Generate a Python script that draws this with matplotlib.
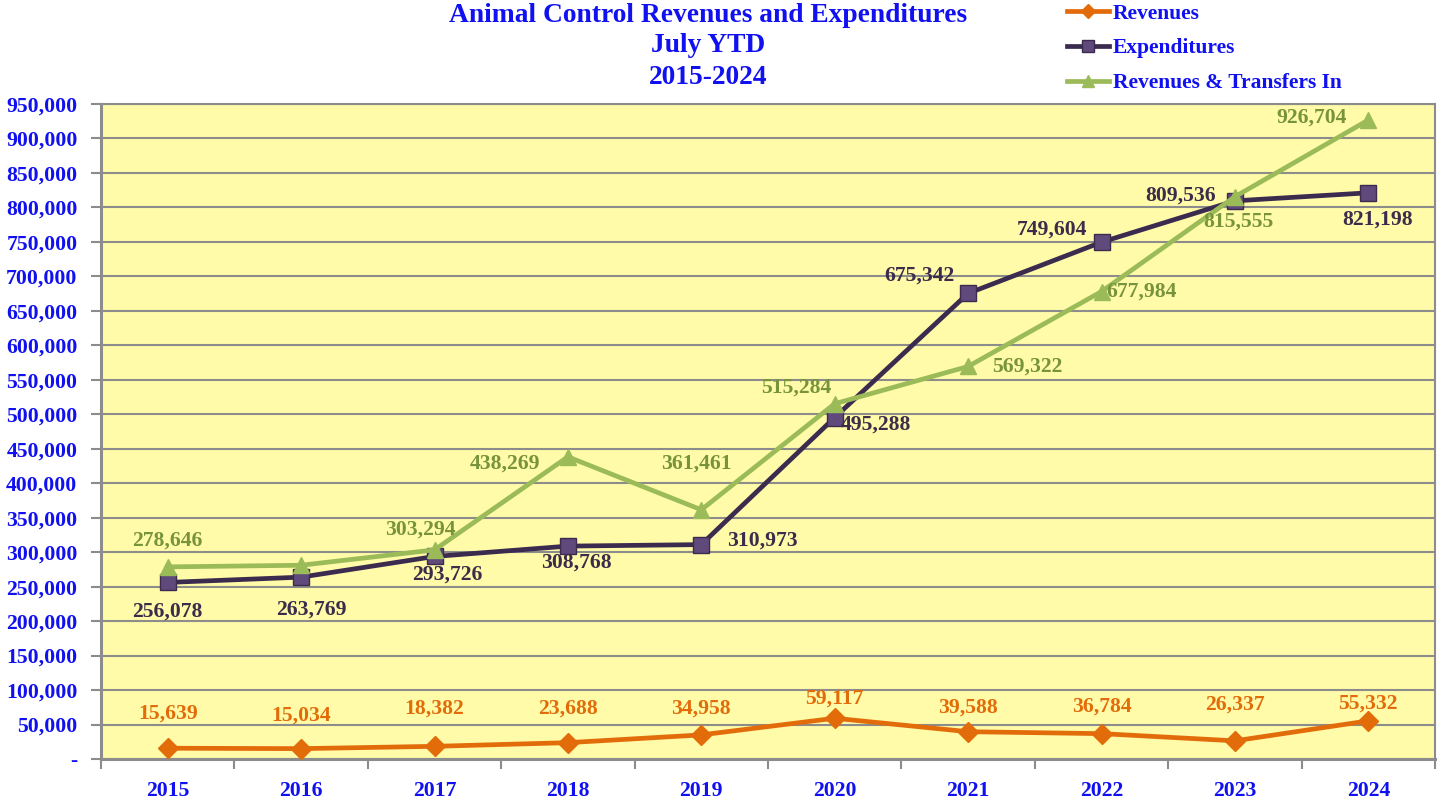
import matplotlib
matplotlib.use("Agg")
import matplotlib.pyplot as plt
from matplotlib.ticker import FuncFormatter, MultipleLocator, FixedLocator

years = ["2015", "2016", "2017", "2018", "2019", "2020", "2021", "2022", "2023", "2024"]
revenues = [15639, 15034, 18382, 23688, 34958, 59117, 39588, 36784, 26337, 55332]
expenditures = [256078, 263769, 293726, 308768, 310973, 495288, 675342, 749604, 809536, 821198]
rev_transfers = [278646, 281000, 303294, 438269, 361461, 515284, 569322, 677984, 815555, 926704]
rev_transfers_labeled = [True, False, True, True, True, True, True, True, True, True]

# label offsets (pixels, dx, dy with +dy upward)
rev_offsets = [(0, 35), (0, 33), (0, 38), (0, 34), (0, 26), (0, 20), (0, 24), (0, 27), (0, 36), (0, 17)]
exp_offsets = [(0, -29), (10, -32), (13, -18), (8, -16), (61, 4), (41, -7), (-49, 18), (-50, 13), (-54, 5), (9, -27)]
grn_offsets = [(0, 26), (0, 0), (-14, 20), (-63, -7), (-5, 46), (-38, 16), (59, 0), (40, 0), (3, -25), (-57, 2)]

BLUE = "#1010F0"
ORANGE = "#E36C0A"
PURPLE_LINE = "#3B2B4F"
PURPLE_FILL = "#604A7B"
PURPLE_TEXT = "#3A2C4A"
GREEN = "#9BBB59"
GREEN_TEXT = "#77933C"
BG = "#FFFBA8"
GRID = "#8C8C8C"

plt.rcParams["font.family"] = ["Liberation Serif", "DejaVu Serif"]
plt.rcParams["font.weight"] = "bold"

fig = plt.figure(figsize=(14.43, 7.99), dpi=100)
ax = fig.add_axes([101 / 1443, 1 - 759 / 799, 1334 / 1443, 655 / 799])
ax.set_facecolor(BG)

x = list(range(len(years)))

l1, = ax.plot(x, revenues, color=ORANGE, lw=3.4, marker="D", ms=10,
              mfc=ORANGE, mec=ORANGE, label="Revenues", zorder=4)
l2, = ax.plot(x, expenditures, color=PURPLE_LINE, lw=3.4, marker="s", ms=11,
              mfc=PURPLE_FILL, mec=PURPLE_LINE, mew=1, label="Expenditures", zorder=4)
l3, = ax.plot(x, rev_transfers, color=GREEN, lw=3.4, marker="^", ms=12,
              mfc=GREEN, mec=GREEN, label="Revenues & Transfers In", zorder=5)

ax.set_xlim(-0.5, len(years) - 0.5)
ax.set_ylim(0, 950000)
ax.yaxis.set_major_locator(MultipleLocator(50000))
ax.yaxis.set_major_formatter(FuncFormatter(lambda v, p: "-" if v == 0 else f"{int(v):,}"))
ax.grid(axis="y", color=GRID, lw=1.5, zorder=1)
ax.set_axisbelow(True)

ax.xaxis.set_major_locator(FixedLocator(x))
ax.set_xticklabels(years)
ax.xaxis.set_minor_locator(FixedLocator([i - 0.5 for i in range(len(years) + 1)]))
ax.tick_params(axis="x", which="major", length=0, pad=16, labelsize=15.7, labelcolor=BLUE)
ax.tick_params(axis="x", which="minor", length=7, width=1.5, color=GRID)
ax.tick_params(axis="y", length=7, width=1.5, color=GRID, pad=10, labelsize=15.7, labelcolor=BLUE)
for lab in ax.get_xticklabels() + ax.get_yticklabels():
    lab.set_fontweight("bold")

for side in ["top", "right"]:
    ax.spines[side].set_color(GRID)
    ax.spines[side].set_linewidth(1.5)
for side in ["left", "bottom"]:
    ax.spines[side].set_color(GRID)
    ax.spines[side].set_linewidth(2.2)

def annotate(values, offsets, color, show=None):
    for i, v in enumerate(values):
        if show is not None and not show[i]:
            continue
        dx, dy = offsets[i]
        ax.annotate(f"{v:,}", (i, v), xytext=(dx * 0.72, dy * 0.72), textcoords="offset points",
                    ha="center", va="center", fontsize=15.6, fontweight="bold", color=color, zorder=6)

annotate(revenues, rev_offsets, ORANGE)
annotate(expenditures, exp_offsets, PURPLE_TEXT)
annotate(rev_transfers, grn_offsets, GREEN_TEXT, rev_transfers_labeled)

# title
for txt, ypix in [("Animal Control Revenues and Expenditures", 15),
                  ("July YTD", 46), ("2015-2024", 77)]:
    fig.text(708 / 1443, 1 - ypix / 799, txt, ha="center", va="center",
             fontsize=19.8, fontweight="bold", color=BLUE)

leg = fig.legend(handles=[l1, l2, l3], loc="upper left",
                 bbox_to_anchor=(1058 / 1443, 1 + 5 / 799), frameon=False,
                 fontsize=15.5, handlelength=1.95, handletextpad=0.2, labelspacing=0.68,
                 borderaxespad=0, markerscale=0.75)
for t in leg.get_texts():
    t.set_color(BLUE)
    t.set_fontweight("bold")

fig.savefig("out.png", dpi=100, facecolor="white")
